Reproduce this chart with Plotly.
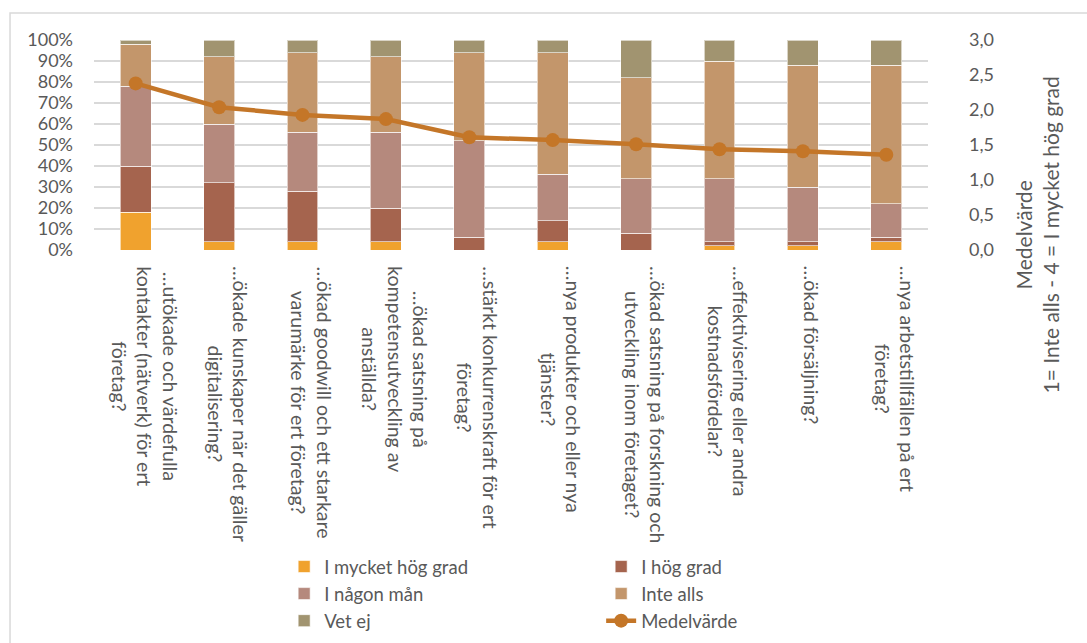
import plotly.graph_objects as go

categories = [
    "…utökade och värdefulla<br>kontakter (nätverk) för ert<br>företag?",
    "…ökade kunskaper när det gäller<br>digitalisering?",
    "…ökad goodwill och ett starkare<br>varumärke för ert företag?",
    "…ökad satsning på<br>kompetensutveckling av<br>anställda?",
    "…stärkt konkurrenskraft för ert<br>företag?",
    "…nya produkter och eller nya<br>tjänster?",
    "…ökad satsning på forskning och<br>utveckling inom företaget?",
    "…effektivisering eller andra<br>kostnadsfördelar?",
    "…ökad försäljning?",
    "…nya arbetstillfällen på ert<br>företag?",
]

mycket_hog = [18, 4, 4, 4, 0, 4, 0, 2, 2, 4]
hog = [22, 28, 24, 16, 6, 10, 8, 2, 2, 2]
nagon_man = [38, 28, 28, 36, 46, 22, 26, 30, 26, 16]
inte_alls = [20, 32, 38, 36, 42, 58, 48, 56, 58, 66]
vet_ej = [2, 8, 6, 8, 6, 6, 18, 10, 12, 12]
medelvarde = [2.38, 2.04, 1.93, 1.87, 1.61, 1.57, 1.51, 1.44, 1.41, 1.36]

left_ticks = [0, 10, 20, 30, 40, 50, 60, 70, 80, 90, 100]
left_ticktext = ["0%", "10%", "20%", "30%", "40%", "50%", "60%", "70%", "80%", "90%", "100%"]
right_ticks = [0, 0.5, 1.0, 1.5, 2.0, 2.5, 3.0]
right_ticktext = ["0,0", "0,5", "1,0", "1,5", "2,0", "2,5", "3,0"]

FONT = "Lato"
TXT = "#595959"
FS = 19.5
TICK_FS = 18
LEG_FS = 18.5
TITLE_FS = 21

x = list(range(len(categories)))

series = [
    ("I mycket hög grad", mycket_hog, "#F0A22E"),
    ("I hög grad", hog, "#A5644E"),
    ("I någon mån", nagon_man, "#B5897D"),
    ("Inte alls", inte_alls, "#C3966B"),
    ("Vet ej", vet_ej, "#A19470"),
]

fig = go.Figure()
for name, vals, col in series:
    fig.add_trace(go.Bar(
        x=x, y=vals, name=name, marker_color=col,
        marker_line=dict(color="rgba(255,255,255,0.6)", width=1),
    ))

fig.add_trace(go.Scatter(
    x=x, y=medelvarde, name="Medelvärde", yaxis="y2", mode="lines+markers",
    line=dict(color="#C47628", width=4.5),
    marker=dict(color="#C47628", size=14),
))

annotations = []
for i, c in enumerate(categories):
    annotations.append(dict(
        x=i, y=0, xref="x", yref="paper", yshift=-14, xshift=9,
        text=c, textangle=90, showarrow=False, align="center",
        xanchor="center", yanchor="top",
        font=dict(family=FONT, size=FS, color=TXT),
    ))

annotations.append(dict(
    x=1.131, y=0.07, xref="paper", yref="paper",
    text="Medelvärde<br>1= Inte alls - 4 = I mycket hög grad",
    textangle=-90, showarrow=False, align="center",
    xanchor="center", yanchor="middle",
    font=dict(family=FONT, size=TITLE_FS, color=TXT),
))

fig.update_layout(
    width=1087, height=643,
    margin=dict(l=94, r=159, t=40, b=393, autoexpand=False),
    paper_bgcolor="white", plot_bgcolor="white",
    barmode="stack", bargap=0.63,
    font=dict(family=FONT, size=FS, color=TXT),
    xaxis=dict(
        tickvals=x, showticklabels=False, range=[-0.5, len(categories) - 0.5],
        showgrid=False, zeroline=False, showline=False,
    ),
    yaxis=dict(
        range=[0, 100], tickvals=left_ticks, ticktext=left_ticktext,
        tickmode="array",
        showgrid=True, gridcolor="#D9D9D9", gridwidth=1.5,
        zeroline=False, showline=False, ticks="", ticklabelstandoff=20,
        tickfont=dict(family=FONT, size=TICK_FS, color=TXT),
    ),
    yaxis2=dict(
        range=[0, 3], tickvals=right_ticks, ticktext=right_ticktext,
        tickmode="array",
        overlaying="y", side="right", showgrid=False, zeroline=False,
        showline=False, ticks="", ticklabelstandoff=40,
        tickfont=dict(family=FONT, size=TICK_FS, color=TXT),
    ),
    legend=dict(
        orientation="h", x=0.228, y=0.1477, yref="container",
        xanchor="left", yanchor="top",
        entrywidth=272, entrywidthmode="pixels",
        font=dict(family=FONT, size=LEG_FS, color=TXT),
        traceorder="normal", tracegroupgap=0, itemwidth=30,
    ),
    annotations=annotations,
    shapes=[dict(
        type="rect", xref="paper", yref="paper",
        x0=-0.1007, x1=1.3, y0=-2.2, y1=1.1286,
        line=dict(color="#D9D9D9", width=1.5), layer="below",
    )],
    showlegend=True,
)

fig.write_html("out.html")
